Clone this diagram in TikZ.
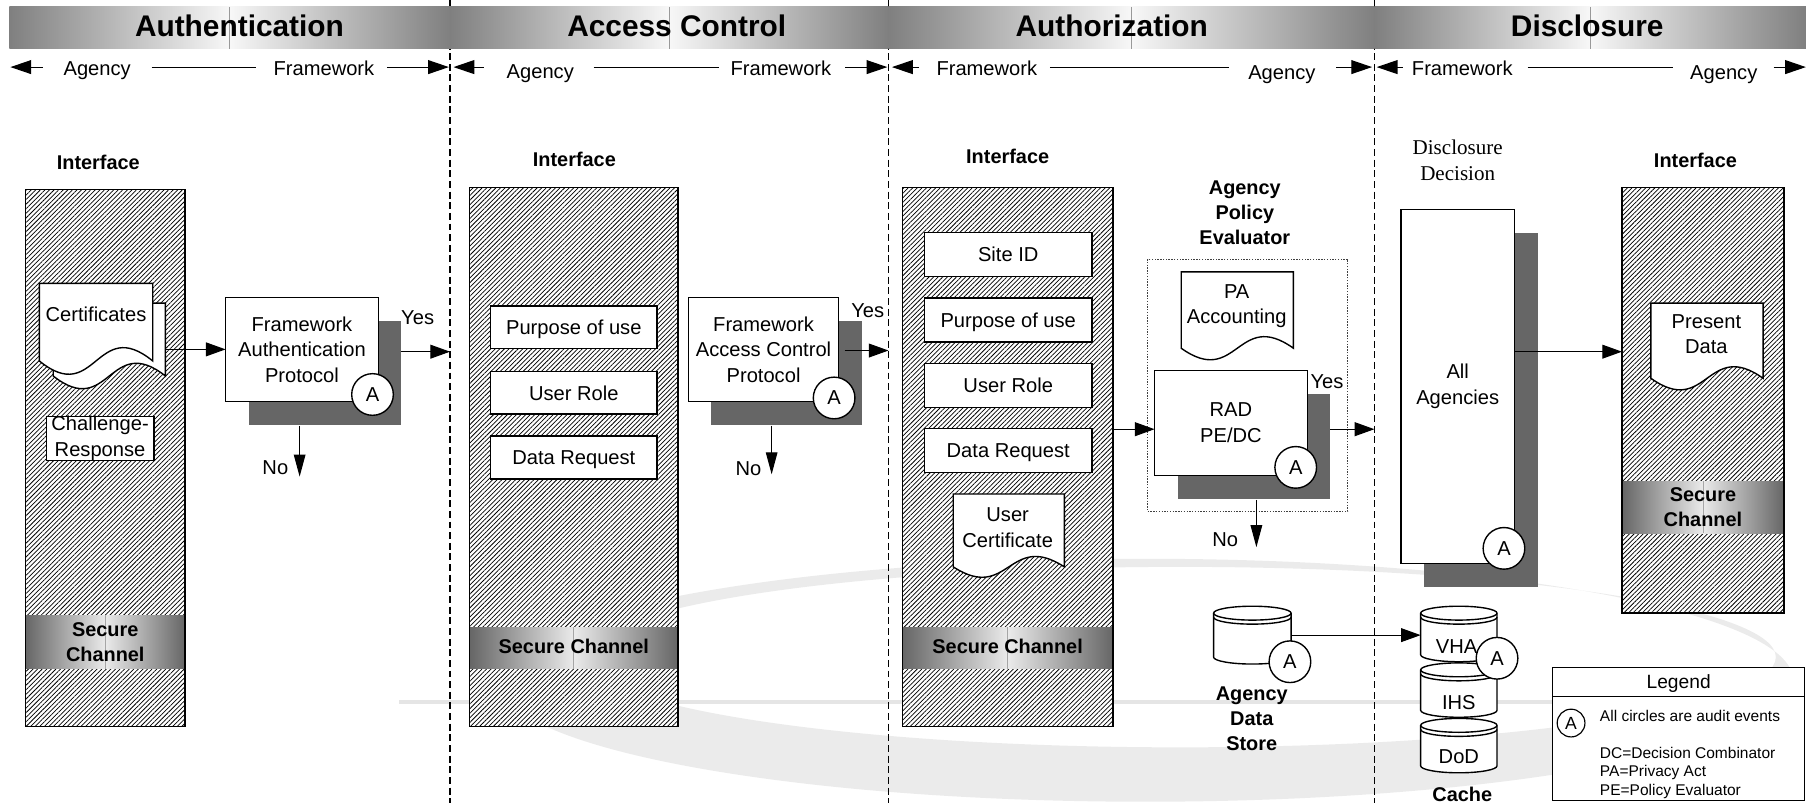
\documentclass[tikz,border=0pt]{standalone}
\usepackage{fontspec}
\setmainfont{Liberation Sans}
\newfontfamily\serifrm{Liberation Serif}
\usetikzlibrary{arrows.meta,patterns.meta,shadows,calc}
\newcommand\fb{\fontsize{8.7pt}{11pt}\selectfont}
\newcommand\fbb{\fontsize{8.6pt}{10.8pt}\selectfont\bfseries}
\newcommand\fhd{\fontsize{12.9pt}{15pt}\selectfont\bfseries}
\newcommand\flg{\fontsize{6.7pt}{8pt}\selectfont}
\newcommand\fdd{\serifrm\fontsize{9.1pt}{11.5pt}\selectfont}

\newcommand\docshape[5]{%
  \draw[docline] (#1,#3) -- (#2,#3) -- (#2,#4)
    .. controls ({(#1+#2)/2},{#4-3.46*#5}) and ({(#1+#2)/2},{#4+3.46*#5}) .. (#1,#4) -- cycle;}

\newcommand\cylshape[4]{%
  \pgfmathsetmacro\cyCx{(#1+#2)/2}%
  \pgfmathsetmacro\cyKx{0.5523*(#2-#1)/2}%
  \pgfmathsetmacro\cyT{#3+6}%
  \pgfmathsetmacro\cyB{#4-6}%
  \pgfmathsetmacro\cyR{#3+9.5}%
  \draw[docline] (#1,\cyT) -- (#1,\cyB)
    .. controls (#1,\cyB+3.3) and (\cyCx-\cyKx,\cyB+6) .. (\cyCx,\cyB+6)
    .. controls (\cyCx+\cyKx,\cyB+6) and (#2,\cyB+3.3) .. (#2,\cyB)
    -- (#2,\cyT)
    .. controls (#2,\cyT-3.3) and (\cyCx+\cyKx,\cyT-6) .. (\cyCx,\cyT-6)
    .. controls (\cyCx-\cyKx,\cyT-6) and (#1,\cyT-3.3) .. (#1,\cyT) -- cycle;
  \draw[line width=0.6pt] (#1,\cyT)
    .. controls (#1,\cyT+3.3) and (\cyCx-\cyKx,\cyT+6) .. (\cyCx,\cyT+6)
    .. controls (\cyCx+\cyKx,\cyT+6) and (#2,\cyT+3.3) .. (#2,\cyT);
  \draw[line width=0.6pt] (#1,\cyR)
    .. controls (#1,\cyR+3.3) and (\cyCx-\cyKx,\cyR+6) .. (\cyCx,\cyR+6)
    .. controls (\cyCx+\cyKx,\cyR+6) and (#2,\cyR+3.3) .. (#2,\cyR);
}

\begin{document}
\begin{tikzpicture}[x=0.5pt,y=-0.5pt,
  every node/.style={inner sep=0pt,outer sep=0pt},
  docline/.style={line width=0.6pt,fill=white},
  box/.style={draw,line width=0.6pt,fill=white,font=\fb,align=center},
  sbox/.style={box,text height=6.3pt,text depth=0pt},
  shad/.style={drop shadow={shadow xshift=10pt,shadow yshift=-10.25pt,fill=black!60,draw=none,opacity=1}},
  hatch/.style={draw,line width=0.6pt,fill=white,postaction={pattern={Lines[angle=45,distance=1.4pt,line width=0.32pt]}}},
  band/.style={left color=black!60,right color=black!60,middle color=black!8},
  aud/.style={circle,draw,line width=0.6pt,fill=white,minimum size=18pt,font=\fb},
  txt/.style={font=\fb,anchor=base},
  lbl/.style={font=\fbb,align=center},
  arr/.style={line width=0.45pt,-{Triangle[length=8.5pt,width=6pt]}},
  arrv/.style={line width=0.45pt,-{Triangle[length=9.5pt,width=5pt]}},
  harr/.style={line width=0.5pt,-{Triangle[length=9pt,width=6pt]}},
  hline/.style={line width=0.5pt},
  divider/.style={line width=0.5pt,dash pattern=on 3pt off 1.6pt},
]
\useasboundingbox (0,0) rectangle (1568,694);

% faint watermark
\fill[black!8,even odd rule] (990,588) ellipse [x radius=280pt,y radius=52.5pt] (1020,568) ellipse [x radius=257.5pt,y radius=39pt];
\draw[black!10,line width=1.6pt] (345,607) -- (1475,607);

% section dividers
\draw[divider] (389,0) -- (389,694);
\draw[divider] (768,0) -- (768,694);
\draw[divider] (1188,0) -- (1188,694);

% header band
\foreach \a/\b in {8/389,389/768,768/1188,1188/1561}{
  \shade[left color=black!50,right color=black!50,middle color=black!3] (\a,6) rectangle (\b,42);
  \draw[black!40,line width=0.3pt] ({(\a+\b)/2},6) -- ({(\a+\b)/2},42);
}
\node[font=\fhd,anchor=base] (h1) at (207,31.7) {Authentication};
\node[font=\fhd,anchor=base] (h2) at (585,31.7) {Access Control};
\node[font=\fhd,anchor=base] (h3) at (961,31.7) {Authorization};
\node[font=\fhd,anchor=base] (h4) at (1372,31.7) {Disclosure};

% header arrows row
\coordinate (l1) at (9,58);   \coordinate (r1) at (388,58);
\coordinate (l2) at (392,58); \coordinate (r2) at (767,58);
\coordinate (l3) at (771,58); \coordinate (r3) at (1186,58);
\coordinate (l4) at (1190,58);\coordinate (r4) at (1561,58);
\node[txt] (ag1) at (84,65) {Agency};
\node[txt] (fw1) at (280,65) {Framework};
\draw[harr] ($(ag1.west|-l1)+(-18,0)$) -- (l1);
\draw[hline] ($(ag1.east|-l1)+(18,0)$) -- ($(fw1.west|-l1)+(-15,0)$);
\draw[harr] ($(fw1.east|-l1)+(11,0)$) -- (r1);
\node[txt] (ag2) at (467,68) {Agency};
\node[txt] (fw2) at (675,65) {Framework};
\draw[harr] ($(ag2.west|-l2)+(-20,0)$) -- (l2);
\draw[hline] ($(ag2.east|-l2)+(17,0)$) -- ($(fw2.west|-l2)+(-10,0)$);
\draw[harr] ($(fw2.east|-l2)+(12,0)$) -- (r2);
\node[txt] (fw3) at (853,65) {Framework};
\node[txt] (ag3) at (1108,68.5) {Agency};
\draw[harr] ($(fw3.west|-l3)+(-15,0)$) -- (l3);
\draw[hline] ($(fw3.east|-l3)+(11,0)$) -- ($(ag3.west|-l3)+(-17,0)$);
\draw[harr] ($(ag3.east|-l3)+(18,0)$) -- (r3);
\node[txt] (fw4) at (1264,65) {Framework};
\node[txt] (ag4) at (1490,68.5) {Agency};
\draw[harr] ($(fw4.west|-l4)+(-8,0)$) -- (l4);
\draw[hline] ($(fw4.east|-l4)+(13,0)$) -- ($(ag4.west|-l4)+(-15,0)$);
\draw[harr] ($(ag4.east|-l4)+(14,0)$) -- (r4);

% interface columns
\node[hatch,minimum width=69pt,minimum height=232pt] (col1) at (91,396) {};
\node[hatch,minimum width=90pt,minimum height=233pt] (col2) at (496,395) {};
\node[hatch,minimum width=91pt,minimum height=233pt] (col3) at (871,395) {};
\node[hatch,minimum width=70pt,minimum height=184pt] (col4) at (1472,346) {};
\node[band,minimum width=69pt,minimum height=23pt] (sc1) at (91,555) {};
\node[band,minimum width=90pt,minimum height=18pt] (sc2) at (496,560) {};
\node[band,minimum width=91pt,minimum height=18pt] (sc3) at (871,560) {};
\node[band,minimum width=70pt,minimum height=22.5pt] (sc4) at (1472,438.5) {};
\foreach \s in {sc1,sc2,sc3,sc4}{\draw[black!35,line width=0.3pt] (\s.north) -- (\s.south);}
\foreach \c in {col1,col2,col3,col4}{\draw[line width=0.6pt] (\c.north west) rectangle (\c.south east);}
\node[lbl] (sct1) at (91,555) {Secure\\Channel};
\node[lbl,anchor=base] (sct2) at (496,565.2) {Secure Channel};
\node[lbl,anchor=base] (sct3) at (871,565.2) {Secure Channel};
\node[lbl] (sct4) at (1472,438.5) {Secure\\Channel};
\node[lbl,anchor=base] (if1) at (85,146.2) {Interface};
\node[lbl,anchor=base] (if2) at (496.5,144.2) {Interface};
\node[lbl,anchor=base] (if3) at (871,141.7) {Interface};
\node[lbl,anchor=base] (if4) at (1465.5,145.2) {Interface};

% ---------- Authentication ----------
\docshape{46}{143}{262}{325}{11}
\docshape{34}{132}{245}{312}{11.5}
\node[txt] (certt) at (83,278.2) {Certificates};
\node[minimum width=48.5pt,minimum height=32pt] (certs) at (94.5,294) {};
\node[box,minimum width=46.5pt,minimum height=19pt] (cr) at (86.5,379) {Challenge-\\Response};
\node[box,shad,minimum width=66pt,minimum height=45pt] (fap) at (261,302) {Framework\\Authentication\\Protocol};
\node[aud] (a1) at (322,341) {A};
\draw[arr] (certs.east|-fap.west) -- (fap.west);
\coordinate (d1) at (389,304);
\draw[arr] ($(fap.east)+(20,2)$) -- (d1);
\node[txt] (yes1) at (361,280.2) {Yes};
\draw[arrv] ($(fap.south)+(-2,21)$) -- ($(fap.south)+(-2,65)$);
\node[txt] (no1) at (238,410.2) {No};

% ---------- Access Control ----------
\node[sbox,minimum width=72pt,minimum height=18.5pt] (pu2) at (496,283) {Purpose of use};
\node[sbox,minimum width=72pt,minimum height=18.5pt] (ur2) at (496,339.5) {User Role};
\node[sbox,minimum width=72pt,minimum height=18.5pt] (dr2) at (496,395.5) {Data Request};
\node[box,shad,minimum width=65pt,minimum height=45pt] (facp) at (660,302) {Framework\\Access Control\\Protocol};
\node[aud] (a2) at (721,344) {A};
\coordinate (d2) at (768,303);
\draw[arr] ($(facp.east)+(5,1)$) -- (d2);
\node[txt] (yes2) at (750,274.2) {Yes};
\draw[arrv] ($(facp.south)+(7,21)$) -- ($(facp.south)+(7,63)$);
\node[txt] (no2) at (647,411.2) {No};

% ---------- Authorization ----------
\node[sbox,minimum width=72.5pt,minimum height=19pt] (site3) at (871.5,220) {Site ID};
\node[sbox,minimum width=72.5pt,minimum height=19pt] (pu3) at (871.5,276.5) {Purpose of use};
\node[sbox,minimum width=72.5pt,minimum height=19pt] (ur3) at (871.5,333) {User Role};
\node[sbox,minimum width=72.5pt,minimum height=19pt] (dr3) at (871.5,389.5) {Data Request};
\docshape{824}{920}{427}{490}{9}
\node[font=\fb,align=center] (uc) at (871,456) {User\\Certificate};
\node[lbl] (ape) at (1076,183.5) {Agency\\Policy\\Evaluator};
\node[draw=black!75,line width=0.5pt,dash pattern=on 0.6pt off 0.6pt,minimum width=86.5pt,minimum height=109pt] (apebox) at (1078.5,333) {};
\docshape{1021}{1118}{235}{301}{10}
\node[font=\fb,align=center] (pa) at (1069,264.5) {PA\\Accounting};
\node[box,shad,minimum width=66pt,minimum height=45.5pt] (rad) at (1064,365.5) {RAD\\PE/DC};
\node[aud] (a3) at (1120,404) {A};
\draw[arr] (col3.east|-0,371) -- (rad.west|-0,371);
\coordinate (d3) at (1188,371);
\draw[arr] ($(rad.east|-d3)+(20,0)$) -- (d3);
\node[txt] (yes3) at (1147,336.2) {Yes};
\draw[arrv] ($(rad.south)+(22,21)$) -- ($(rad.south)+(22,62)$);
\node[txt] (no3) at (1059,472.2) {No};

% data stores
\cylshape{1049}{1116}{524}{574}
\node[minimum width=33.5pt,minimum height=25pt] (adsC) at (1082.5,549) {};
\node[aud] (a4) at (1115,572) {A};
\node[lbl] (adst) at (1082,621.5) {Agency\\Data\\Store};
\cylshape{1228}{1294}{524}{572}
\cylshape{1228}{1294}{573}{620}
\cylshape{1228}{1294}{621}{668}
\node[minimum width=33pt,minimum height=24pt] (vhaC) at (1261,548) {};
\node[txt] (vha) at (1259,565.2) {VHA};
\node[txt] (ihs) at (1261,613.2) {IHS};
\node[txt] (dod) at (1261,660.2) {DoD};
\node[aud] (a5) at (1294,569) {A};
\node[lbl,anchor=base] (cache) at (1264,692.5) {Cache};
\draw[arr] (adsC.east) -- (adsC.east-|vhaC.west);

% ---------- Disclosure ----------
\node[font=\fdd,align=center] (dd) at (1260,138.5) {Disclosure\\Decision};
\node[box,shad,minimum width=49pt,minimum height=153pt] (allag) at (1260,334) {All\\Agencies};
\node[aud] (a6) at (1300,474) {A};
\docshape{1427}{1524}{262}{327}{10}
\node[font=\fb,align=center] (pd) at (1475,289) {Present\\Data};
\draw[arr] (allag.east|-0,304) -- (col4.west|-0,304);

% legend
\node[draw,line width=0.5pt,fill=white,minimum width=109pt,minimum height=57.5pt] (leg) at (1451,634.5) {};
\draw[line width=0.5pt] (leg.west|-0,602) -- (leg.east|-0,602);
\node[font=\fontsize{8.3pt}{10pt}\selectfont,anchor=base] (legt) at (1451,595.5) {Legend};
\node[aud,minimum size=12pt,font=\fontsize{7.6pt}{9pt}\selectfont,line width=0.5pt] (lega) at (1358,625) {A};
\node[font=\flg,anchor=base west] (leg1) at (1383,623.8) {All circles are audit events};
\node[font=\flg,anchor=base west] (leg2) at (1383,655.8) {DC=Decision Combinator};
\node[font=\flg,anchor=base west] (leg3) at (1383,670.8) {PA=Privacy Act};
\node[font=\flg,anchor=base west] (leg4) at (1383,687.3) {PE=Policy Evaluator};
\end{tikzpicture}
\end{document}
